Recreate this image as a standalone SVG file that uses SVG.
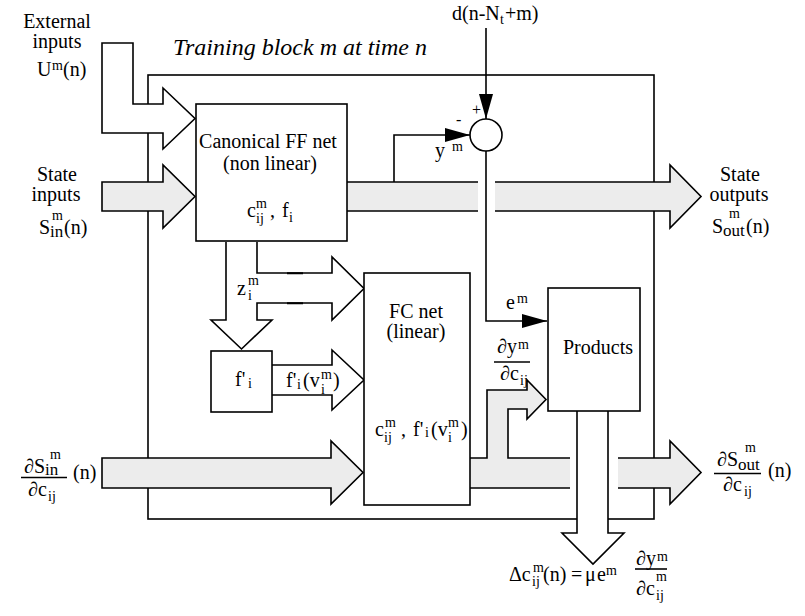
<svg xmlns="http://www.w3.org/2000/svg" width="805" height="616" viewBox="0 0 805 616" font-family="'Liberation Serif', 'Times New Roman', Times, 'DejaVu Serif', serif">
<defs>
<style>
.ln{fill:none;stroke:#000;stroke-width:1.6}
.wh{fill:#fff;stroke:#000;stroke-width:1.6}
.gr{fill:#ececec;stroke:#000;stroke-width:1.6}
.halo{fill:#fff;stroke:none}
text{font-family:'Liberation Serif','Times New Roman',Times,'DejaVu Serif',serif;font-size:20px;fill:#000}
.s{font-size:14px}
.s2{font-size:17px}
.it{font-style:italic;font-size:24px}
.mid{text-anchor:middle}
</style>
<marker id="ah" viewBox="0 0 25 14" refX="25" refY="7" markerWidth="25" markerHeight="14" markerUnits="userSpaceOnUse" orient="auto">
<path d="M0,0 L25,7 L0,14 Z" fill="#000"/>
</marker>
</defs>
<rect width="805" height="616" fill="#fff"/>

<g id="training-block">
<rect class="ln" x="148" y="75" width="506" height="444"/>
<text class="it" x="173" y="55">Training block m at time n</text>
</g>

<g id="connectors">
<path class="wh" d="M102,43 L133,43 L133,104 L163,104 L163,88 L195,118.5 L163,149 L163,133 L102,133 Z"/>
<path class="gr" d="M102,182 L163,182 L163,165 L195,196.5 L163,228 L163,211 L102,211 Z"/>
<path class="gr" d="M347,182 L670,182 L670,165 L701,196.5 L670,228 L670,211 L347,211"/>
<path class="ln" d="M394,182 L394,135 L470,135" marker-end="url(#ah)"/>
<path class="ln" d="M486,28 L486,119" marker-end="url(#ah)"/>
<rect class="halo" x="478" y="180" width="17" height="33"/>
<path class="ln" d="M486,151 L486,321 L547,321" marker-end="url(#ah)"/>
<path class="wh" d="M226,242 L226,320 L211,320 L241.5,349 L272,320 L257,320 L257,303 L332,303 L332,320 L364,288.5 L332,257 L332,273 L257,273 L257,242"/>
<path class="ln" style="stroke-width:2" d="M287,273.2 L303,273.2 M287,303.2 L303,303.2"/>
<path class="wh" d="M272,365 L332,365 L332,350 L364,380 L332,410 L332,395 L272,395"/>
<path class="gr" d="M102,458 L331,458 L331,441 L363,472.5 L331,504 L331,488 L102,488 Z"/>
<path class="gr" d="M470,458 L487,458 L487,390 L527,390 L527,380 L546,399.5 L527,419 L527,409 L508,409 L508,458 L670,458 L670,441 L701,472.5 L670,504 L670,488 L470,488"/>
<rect class="halo" x="570" y="456" width="48" height="34"/>
<path class="wh" d="M577,411 L577,533 L562,533 L593,564 L624,533 L608,533 L608,411"/>
</g>

<g id="ff-net">
<rect class="wh" x="196" y="104" width="151" height="137"/>
<text class="mid" x="268" y="148">Canonical FF net</text>
<text class="mid" x="270" y="170">(non linear)</text>
<text><tspan x="247" y="217">c</tspan><tspan class="s" x="256" y="208">m</tspan><tspan class="s" x="256" y="223">ij</tspan><tspan x="270" y="217">,</tspan><tspan x="282" y="217">f</tspan><tspan class="s" x="289" y="222">i</tspan></text>
</g>

<g id="sum-node">
<circle class="wh" cx="486" cy="135" r="16"/>
<text x="472" y="115" style="font-size:16px">+</text>
<text x="456" y="125" style="font-size:16px">-</text>
</g>

<g id="fprime">
<rect class="wh" x="211" y="351" width="61" height="61"/>
<text><tspan x="235" y="386">f'</tspan><tspan class="s" x="248" y="388">i</tspan></text>
</g>

<g id="fc-net">
<rect class="wh" x="364" y="273" width="106" height="232"/>
<text class="mid" x="416" y="318">FC net</text>
<text class="mid" x="416" y="338">(linear)</text>
<text><tspan x="375" y="436">c</tspan><tspan class="s" x="385" y="427">m</tspan><tspan class="s" x="384" y="442">ij</tspan><tspan x="401" y="436">,</tspan><tspan x="413" y="436">f'</tspan><tspan class="s" x="425" y="437">i</tspan><tspan x="431" y="436">(v</tspan><tspan class="s" x="448" y="427">m</tspan><tspan class="s" x="448" y="442">i</tspan><tspan x="461" y="436">)</tspan></text>
</g>

<g id="products">
<rect class="wh" x="548" y="288" width="92" height="123"/>
<text class="mid" x="598" y="354">Products</text>
</g>

<g id="labels">
<text class="mid" x="57" y="28">External</text>
<text class="mid" x="57" y="48">inputs</text>
<text><tspan x="37" y="76">U</tspan><tspan class="s" x="52" y="70">m</tspan><tspan x="63" y="76">(n)</tspan></text>

<text class="mid" x="57" y="181">State</text>
<text class="mid" x="56" y="201">inputs</text>
<text><tspan x="39" y="234">S</tspan><tspan class="s" x="52" y="220">m</tspan><tspan class="s2" x="50" y="237">in</tspan><tspan x="64" y="234">(n)</tspan></text>

<text class="mid" x="740" y="181">State</text>
<text class="mid" x="739" y="201">outputs</text>
<text><tspan x="712" y="233">S</tspan><tspan class="s" x="729" y="218">m</tspan><tspan class="s2" x="723" y="236">out</tspan><tspan x="746" y="233">(n)</tspan></text>

<text><tspan x="452" y="20">d(n-N</tspan><tspan class="s" x="500" y="24">t</tspan><tspan x="505" y="20">+m)</tspan></text>

<text x="435" y="157">y</text>
<text class="s" x="452" y="151">m</text>

<text x="506" y="309">e</text>
<text class="s" x="517" y="303">m</text>

<text><tspan x="497" y="353">∂y</tspan><tspan class="s" x="518" y="349">m</tspan></text>
<line class="ln" x1="494" y1="362" x2="530" y2="362"/>
<text><tspan x="500" y="380">∂c</tspan><tspan class="s" x="520" y="385">ij</tspan></text>

<text><tspan x="237" y="295">z</tspan><tspan class="s" x="248" y="285">m</tspan><tspan class="s" x="248" y="300">i</tspan></text>

<text><tspan x="286" y="387">f'</tspan><tspan class="s" x="297" y="389">i</tspan><tspan x="303" y="387">(v</tspan><tspan class="s" x="321" y="379">m</tspan><tspan class="s" x="321" y="394">i</tspan><tspan x="333" y="387">)</tspan></text>

<text><tspan x="24" y="473">∂S</tspan><tspan class="s" x="50" y="459">m</tspan><tspan class="s2" x="45" y="475">in</tspan></text>
<line class="ln" x1="21" y1="477.5" x2="67" y2="477.5"/>
<text><tspan x="28" y="496">∂c</tspan><tspan class="s" x="48" y="501">ij</tspan></text>
<text x="73" y="479">(n)</text>

<text><tspan x="717" y="466">∂S</tspan><tspan class="s" x="745" y="452">m</tspan><tspan class="s2" x="738" y="470">out</tspan></text>
<line class="ln" x1="714" y1="473.5" x2="761" y2="473.5"/>
<text><tspan x="723" y="491">∂c</tspan><tspan class="s" x="744" y="496">ij</tspan></text>
<text x="768" y="477">(n)</text>

<text><tspan x="509" y="581">Δc</tspan><tspan class="s" x="533" y="572">m</tspan><tspan class="s" x="532" y="586">ij</tspan><tspan x="543" y="581">(n)</tspan><tspan x="571" y="581">=</tspan><tspan x="585" y="581">μ</tspan><tspan x="597" y="581">e</tspan><tspan class="s" x="606" y="575">m</tspan></text>
<text><tspan x="636" y="565">∂y</tspan><tspan class="s" x="657" y="561">m</tspan></text>
<line class="ln" x1="635" y1="569" x2="667" y2="569"/>
<text><tspan x="636" y="595">∂c</tspan><tspan class="s" x="656" y="581">m</tspan><tspan class="s" x="656" y="600">ij</tspan></text>
</g>
</svg>
